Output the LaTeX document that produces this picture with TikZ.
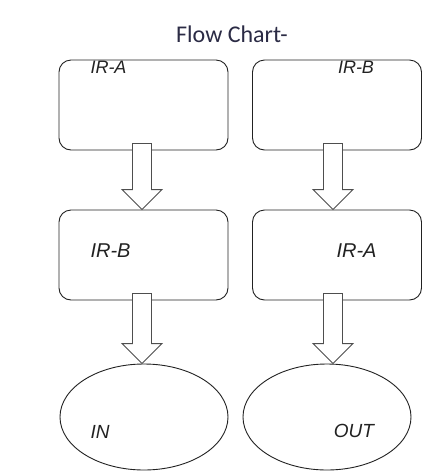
\documentclass[tikz,border=0pt]{standalone}
\usepackage{fontspec}
\setmainfont{Liberation Sans}
\newfontfamily\titlefont{Carlito}
\usetikzlibrary{calc,shapes.geometric}
\definecolor{ink}{HTML}{222222}
\definecolor{titleink}{HTML}{2B2B45}
\tikzset{
  boxnode/.style={draw=ink, line width=0.9pt, rounded corners=12pt, minimum width=169pt, minimum height=90pt, inner sep=0pt, fill=white},
  ovalnode/.style={draw=ink, line width=0.9pt, ellipse, minimum width=168pt, minimum height=106pt, inner sep=0pt},
  lbl/.style={font=\itshape, text=ink, anchor=base, inner sep=0pt},
  barrow/.style={draw=ink!80, line width=0.9pt, fill=white, line join=miter}
}
\newcommand{\blockarr}[2]{%
  \draw[barrow] let \p1=(#1), \p2=(#2) in
    (\x1-9.5pt,\y1) -- (\x1+9.5pt,\y1) -- (\x1+9.5pt,\y2+20pt) -- (\x1+20pt,\y2+20pt)
    -- (\x1,\y2) -- (\x1-20pt,\y2+20pt) -- (\x1-9.5pt,\y2+20pt) -- cycle;}
\begin{document}
\begin{tikzpicture}[x=1pt,y=-1pt]
\useasboundingbox[fill=white] (0,0) rectangle (432,475);
\node[font=\titlefont\fontsize{24}{28}\selectfont, text=titleink, anchor=base] (title) at (232,42) {Flow Chart-};
% boxes
\node[boxnode] (la) at (143.5,105) {};
\node[boxnode] (ra) at (337,105) {};
\node[boxnode] (lb) at (143.5,255) {};
\node[boxnode] (rb) at (337,255) {};
\node[ovalnode] (lc) at (144,417) {};
\node[ovalnode] (rc) at (327,417) {};
% block arrows
\blockarr{$(la.south)+(-1.5,-7)$}{$(lb.north-|la.south)+(-1.5,0)$}
\blockarr{$(ra.south)+(-4,-7)$}{$(rb.north)+(-4,0)$}
\blockarr{$(lb.south)+(-1.5,-7)$}{$(lc.north)+(-2,0)$}
\blockarr{$(rb.south)+(-4,-7)$}{$(rc.north)+(6,0)$}
% labels
\node[lbl, font=\itshape\fontsize{18}{20}\selectfont] (t1) at (108.5,73) {IR-A};
\node[lbl, font=\itshape\fontsize{18}{20}\selectfont] (t2) at (356,73) {IR-B};
\node[lbl, font=\itshape\fontsize{20}{22}\selectfont] (t3) at (110.5,257) {IR-B};
\node[lbl, font=\itshape\fontsize{20}{22}\selectfont] (t4) at (356.5,257) {IR-A};
\node[lbl, font=\itshape\fontsize{19}{21}\selectfont] (t5) at (100,438) {IN};
\node[lbl, font=\itshape\fontsize{19}{21}\selectfont] (t6) at (354,437) {OUT};
\end{tikzpicture}
\end{document}
